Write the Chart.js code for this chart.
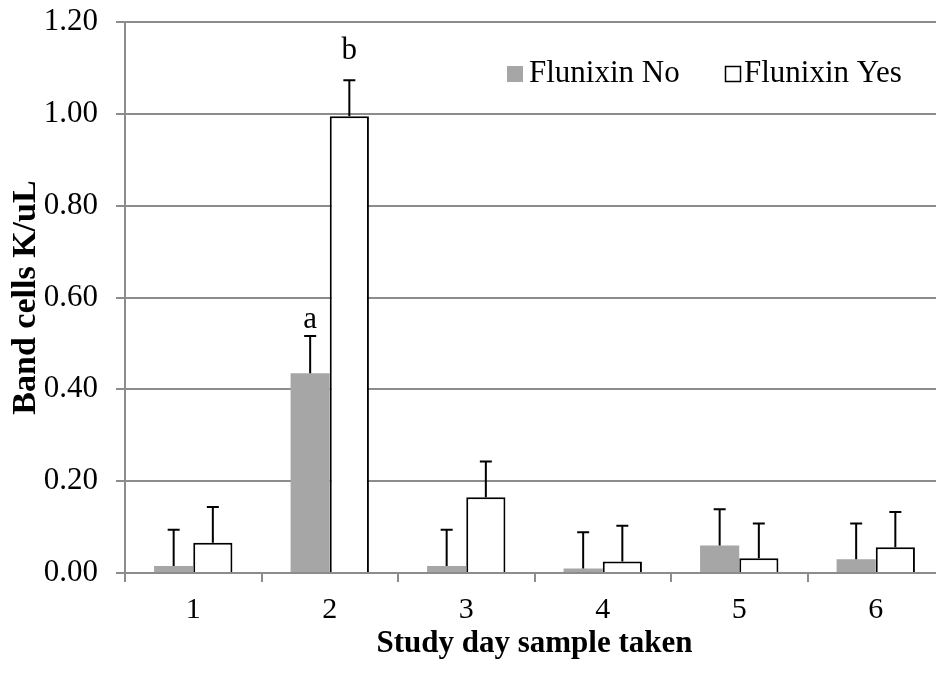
<!DOCTYPE html>
<html>
<head>
<meta charset="utf-8">
<script src="https://cdn.jsdelivr.net/npm/chart.js@4/dist/chart.umd.min.js"></script>
<style>
  body { margin: 0; overflow: hidden; background: #fff; }
  #wrap { width: 944px; height: 675px; }
</style>
</head>
<body>
<div id="wrap"><canvas id="myChart"></canvas></div>
<script>
const days = ['1', '2', '3', '4', '5', '6'];
const flunixinNo = [0.015, 0.435, 0.015, 0.010, 0.060, 0.030];
const flunixinYes = [0.066, 0.995, 0.165, 0.025, 0.032, 0.056];
const errNo = [0.079, 0.081, 0.079, 0.079, 0.079, 0.078];
const errYes = [0.078, 0.078, 0.078, 0.078, 0.076, 0.077];
const sigNo = ['', 'a', '', '', '', ''];
const sigYes = ['', 'b', '', '', '', ''];
const yTicks = [0, 0.2, 0.4, 0.6, 0.8, 1.0, 1.2];

const FONT = "'Liberation Serif', 'Times New Roman', serif";
const GRID = '#8c8c8c';

// upper error whiskers + significance letters
const errorBars = {
    id: 'errorBars',
    afterDatasetsDraw(chart) {
        const ctx = chart.ctx;
        const y = chart.scales.y;
        const errs = [errNo, errYes];
        const sigs = [sigNo, sigYes];
        const gaps = [8, 21];
        ctx.save();
        chart.data.datasets.forEach((ds, di) => {
            const meta = chart.getDatasetMeta(di);
            meta.data.forEach((bar, i) => {
                const top = y.getPixelForValue(ds.data[i]);
                const cap = y.getPixelForValue(ds.data[i] + errs[di][i]);
                ctx.strokeStyle = '#000';
                ctx.lineWidth = 2;
                ctx.beginPath();
                ctx.moveTo(bar.x, top);
                ctx.lineTo(bar.x, cap);
                ctx.moveTo(bar.x - 6, cap);
                ctx.lineTo(bar.x + 6, cap);
                ctx.stroke();
                if (sigs[di][i]) {
                    ctx.fillStyle = '#000';
                    ctx.font = '31px ' + FONT;
                    ctx.textAlign = 'center';
                    ctx.textBaseline = 'alphabetic';
                    ctx.fillText(sigs[di][i], bar.x, cap - gaps[di]);
                }
            });
        });
        ctx.restore();
    }
};

// legend drawn inside the plot, top right
const boxLegend = {
    id: 'boxLegend',
    afterDraw(chart) {
        const ctx = chart.ctx;
        const top = chart.chartArea.top;
        ctx.save();
        ctx.font = '31px ' + FONT;
        ctx.textBaseline = 'alphabetic';
        ctx.textAlign = 'left';
        ctx.fillStyle = '#a6a6a6';
        ctx.fillRect(507, top + 44, 16, 16);
        ctx.fillStyle = '#000';
        ctx.fillText(chart.data.datasets[0].label, 529, top + 60);
        ctx.strokeStyle = '#000';
        ctx.lineWidth = 1.5;
        ctx.strokeRect(725.5, top + 44.5, 15, 15);
        ctx.fillText(chart.data.datasets[1].label, 744, top + 60);
        ctx.restore();
    }
};

const ctx = document.getElementById('myChart').getContext('2d');
const myChart = new Chart(ctx, {
    type: 'bar',
    data: {
        labels: days,
        datasets: [{
            label: 'Flunixin No',
            data: flunixinNo,
            backgroundColor: '#a6a6a6',
            borderWidth: 0
        }, {
            label: 'Flunixin Yes',
            data: flunixinYes,
            backgroundColor: '#ffffff',
            borderColor: '#000000',
            borderWidth: 2
        }]
    },
    options: {
        responsive: true,
        maintainAspectRatio: false,
        animation: false,
        layout: { padding: { top: 22, left: 0, right: 0, bottom: 0 } },
        datasets: {
            bar: { categoryPercentage: 0.574, barPercentage: 1.0 }
        },
        plugins: {
            legend: { display: false },
            tooltip: { enabled: false }
        },
        scales: {
            x: {
                grid: {
                    display: true,
                    drawOnChartArea: false,
                    offset: true,
                    tickLength: 9,
                    color: GRID,
                    lineWidth: 2
                },
                border: { display: true, color: GRID, width: 2 },
                ticks: {
                    color: '#000',
                    font: { family: FONT, size: 30 },
                    padding: 10,
                    maxRotation: 0
                },
                title: {
                    display: true,
                    text: 'Study day sample taken',
                    color: '#000',
                    font: { family: FONT, size: 31, weight: 'bold' },
                    padding: { top: 0, bottom: 12 }
                },
                afterFit(scale) {
                    scale.height = 102;
                    scale.paddingLeft = 0;
                    scale.paddingRight = 0;
                }
            },
            y: {
                min: 0,
                max: 1.2,
                afterBuildTicks(scale) {
                    scale.ticks = yTicks.map(v => ({ value: v }));
                },
                grid: {
                    color: GRID,
                    lineWidth: 2,
                    tickLength: 9
                },
                border: { display: true, color: GRID, width: 2 },
                ticks: {
                    color: '#000',
                    font: { family: FONT, size: 31 },
                    padding: 18,
                    callback: v => v.toFixed(2)
                },
                title: {
                    display: true,
                    text: 'Band cells K/uL',
                    color: '#000',
                    font: { family: FONT, size: 34, weight: 'bold' },
                    padding: { top: 6, bottom: 0 }
                },
                afterFit(scale) {
                    scale.width = 125;
                    scale.paddingTop = 0;
                    scale.paddingBottom = 0;
                }
            }
        }
    },
    plugins: [errorBars, boxLegend]
});
</script>
</body>
</html>
